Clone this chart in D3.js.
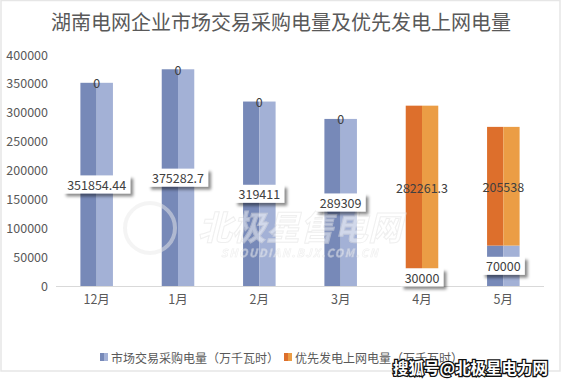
<!DOCTYPE html>
<html>
<head>
<meta charset="utf-8">
<script src="https://cdn.jsdelivr.net/npm/d3@7"></script>
<style>
  body { margin: 0; background: #fff; }
  text { font-family: "Noto Sans CJK SC", "Noto Sans", sans-serif; }
</style>
</head>
<body>
<div id="content"></div>
<script>
let width = 563;
let height = 381;
let margin = ({top: 55, right: 19, bottom: 95, left: 56});

// data
let months = ["12月", "1月", "2月", "3月", "4月", "5月"];
let marketValues = [351854.44, 375282.7, 319411, 289309, 30000, 70000];
let priorityValues = [0, 0, 0, 0, 282261.3, 205538];
let labelsMarket = ["351854.44", "375282.7", "319411", "289309", "30000", "70000"];
let labelsPriority = ["0", "0", "0", "0", "282261.3", "205538"];
let seriesNames = ["市场交易采购电量（万千瓦时）", "优先发电上网电量（万千瓦时）"];
let yTicks = [0, 50000, 100000, 150000, 200000, 250000, 300000, 350000, 400000];

// dark / light halves for the two-tone bars
let colors = [
  {dark: "#7789b8", light: "#a3b1d6"},
  {dark: "#dd6f2c", light: "#eb9d45"}
];

let svg = d3.select("#content")
    .append("svg")
    .attr("width", width)
    .attr("height", height);

let defs = svg.append("defs");
defs.append("filter")
    .attr("id", "shadow")
    .attr("x", "-20%").attr("y", "-30%")
    .attr("width", "150%").attr("height", "180%")
  .append("feDropShadow")
    .attr("dx", 3).attr("dy", 3)
    .attr("stdDeviation", 1.6)
    .attr("flood-color", "#000")
    .attr("flood-opacity", 0.45);

// outer frame
svg.append("rect")
    .attr("x", 1).attr("y", 0.5)
    .attr("width", 559).attr("height", 370.5)
    .attr("fill", "#fff")
    .attr("stroke", "#e6e6e6")
    .attr("stroke-width", 1.5);

let xScale = d3.scaleBand()
    .domain(months)
    .range([margin.left, 544])
    .paddingInner(0.6)
    .paddingOuter(0.3);

let yScale = d3.scaleLinear()
    .domain([0, 400000])
    .range([286, margin.top]);

// title
svg.append("text")
    .attr("x", 281)
    .attr("y", 30)
    .attr("text-anchor", "middle")
    .attr("font-size", 20)
    .attr("fill", "#595959")
    .text("湖南电网企业市场交易采购电量及优先发电上网电量");

// y axis (labels only)
let yAxis = d3.axisLeft(yScale).tickValues(yTicks).tickFormat(d3.format("d")).tickSize(0).tickPadding(0);
let gy = svg.append("g")
    .attr("transform", "translate(48,0)")
    .call(yAxis);
gy.select(".domain").remove();
gy.selectAll("text")
    .attr("font-size", 12.5)
    .attr("fill", "#595959")
    .style("font-family", "'Noto Sans CJK SC', sans-serif");

// x axis
let xAxis = d3.axisBottom(xScale).tickSize(0).tickPadding(9);
let gx = svg.append("g")
    .attr("transform", "translate(0," + yScale(0) + ")")
    .call(xAxis);
gx.select(".domain")
    .attr("stroke", "#d9d9d9")
    .attr("d", "M" + margin.left + ",0.5H544");
gx.selectAll("text")
    .attr("font-size", 12.5)
    .attr("fill", "#595959")
    .style("font-family", "'Noto Sans CJK SC', sans-serif");

// stacked data
let rows = months.map((m, i) => ({month: m, market: marketValues[i], priority: priorityValues[i]}));
let stack = d3.stack().keys(["market", "priority"]);
let stacked = stack(rows);

let bw = xScale.bandwidth();
stacked.forEach(function(layer, si) {
    let g = svg.append("g");
    g.selectAll(".dark")
        .data(layer)
        .enter().append("rect")
        .attr("x", d => xScale(d.data.month))
        .attr("y", d => yScale(d[1]))
        .attr("width", bw / 2)
        .attr("height", d => yScale(d[0]) - yScale(d[1]))
        .attr("fill", colors[si].dark);
    g.selectAll(".light")
        .data(layer)
        .enter().append("rect")
        .attr("x", d => xScale(d.data.month) + bw / 2)
        .attr("y", d => yScale(d[1]))
        .attr("width", bw / 2)
        .attr("height", d => yScale(d[0]) - yScale(d[1]))
        .attr("fill", colors[si].light);
});

// faint watermark laid over the bars
let wm = svg.append("g").attr("opacity", 0.5);
wm.append("circle")
    .attr("cx", 150).attr("cy", 228).attr("r", 25)
    .attr("fill", "none").attr("stroke", "#eaeaea").attr("stroke-width", 4);
wm.append("text")
    .attr("x", 300).attr("y", 240)
    .attr("text-anchor", "middle")
    .attr("font-size", 34).attr("font-weight", "bold").attr("font-style", "italic")
    .attr("fill", "#fff").attr("stroke", "#e0e0e0").attr("stroke-width", 1)
    .text("北极星售电网");
wm.append("text")
    .attr("x", 300).attr("y", 257)
    .attr("text-anchor", "middle")
    .attr("font-size", 11).attr("font-weight", "bold").attr("font-style", "italic")
    .attr("letter-spacing", 1.5)
    .attr("fill", "#fff").attr("stroke", "#e0e0e0").attr("stroke-width", 0.6)
    .text("SHOUDIAN.BJX.COM.CN");

// labels for market series: white box with shadow
stacked[0].forEach(function(d, i) {
    let cx = xScale(d.data.month) + bw / 2;
    let cy = yScale((d[0] + d[1]) / 2);
    let g = svg.append("g");
    let t = g.append("text")
        .attr("x", cx)
        .attr("y", cy)
        .attr("text-anchor", "middle")
        .attr("dominant-baseline", "central")
        .attr("font-size", 12.5)
        .attr("fill", "#404040")
        .text(labelsMarket[i]);
    let bb = t.node().getBBox();
    g.insert("rect", "text")
        .attr("x", bb.x - 4)
        .attr("y", cy - 9)
        .attr("width", bb.width + 8)
        .attr("height", 18)
        .attr("fill", "#fff")
        .attr("filter", "url(#shadow)");
});

// labels for priority series: plain text
stacked[1].forEach(function(d, i) {
    svg.append("text")
        .attr("x", xScale(d.data.month) + bw / 2)
        .attr("y", yScale((d[0] + d[1]) / 2))
        .attr("text-anchor", "middle")
        .attr("dominant-baseline", "central")
        .attr("font-size", 12.5)
        .attr("fill", "#404040")
        .text(labelsPriority[i]);
});

// legend
let legendX = [100, 284];
seriesNames.forEach(function(name, i) {
    let g = svg.append("g").attr("transform", "translate(" + legendX[i] + ",353)");
    g.append("rect").attr("x", 0).attr("y", 0).attr("width", 4).attr("height", 8).attr("fill", colors[i].dark);
    g.append("rect").attr("x", 4).attr("y", 0).attr("width", 4).attr("height", 8).attr("fill", colors[i].light);
    g.append("text")
        .attr("x", 11)
        .attr("y", 4)
        .attr("dominant-baseline", "central")
        .attr("font-size", 12)
        .attr("fill", "#595959")
        .text(name);
});

// source mark at bottom right
svg.append("text")
    .attr("x", 548)
    .attr("y", 374)
    .attr("text-anchor", "end")
    .attr("font-size", 15.5)
    .attr("font-weight", "bold")
    .attr("fill", "#fff")
    .attr("stroke", "#111")
    .attr("stroke-width", 2.6)
    .attr("paint-order", "stroke")
    .text("搜狐号@北极星电力网");
</script>
</body>
</html>
